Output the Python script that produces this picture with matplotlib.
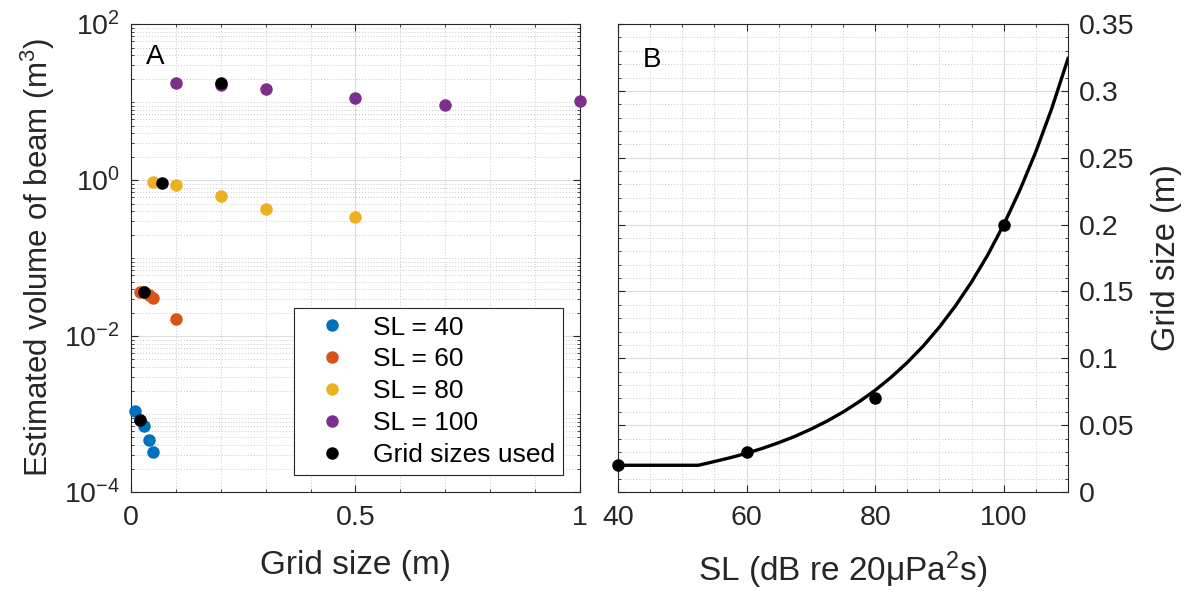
import numpy as np
from matplotlib import pyplot as plt
from matplotlib.ticker import LogLocator, FixedLocator, MultipleLocator, FuncFormatter, NullFormatter

plt.rcParams['font.family'] = ['Liberation Sans', 'DejaVu Sans']
plt.rcParams['mathtext.fontset'] = 'custom'
plt.rcParams['mathtext.rm'] = 'Liberation Sans'
plt.rcParams['mathtext.it'] = 'Liberation Sans'

# panel A: estimated beam volume vs grid size
sl_labels = ['SL = 40', 'SL = 60', 'SL = 80', 'SL = 100']
sl_colors = ['#0072BD', '#D95319', '#EDB120', '#7E2F8E']
grid_40 = [0.01, 0.02, 0.03, 0.04, 0.05]
vol_40 = [0.0011, 0.00084, 0.00071, 0.00046, 0.00033]
grid_60 = [0.02, 0.03, 0.04, 0.05, 0.1]
vol_60 = [0.037, 0.037, 0.034, 0.0304, 0.0165]
grid_80 = [0.05, 0.1, 0.2, 0.3, 0.5]
vol_80 = [0.95, 0.86, 0.63, 0.43, 0.333]
grid_100 = [0.1, 0.2, 0.3, 0.5, 0.7, 1.0]
vol_100 = [17.4, 16.5, 14.6, 11.1, 9.1, 10.3]
used_grid = [0.02, 0.03, 0.07, 0.2]
used_vol = [0.00084, 0.037, 0.91, 17.4]

# panel B: chosen grid size vs SL
sl_used = [40, 60, 80, 100]
grid_used = [0.02, 0.03, 0.07, 0.2]
curve_sl = [40, 45, 50, 52.5, 55, 57.5, 60, 62.5, 65, 67.5, 70, 72.5, 75, 77.5,
            80, 82.5, 85, 87.5, 90, 92.5, 95, 97.5, 100, 102.5, 105, 107.5, 110]
curve_grid = [0.02, 0.02, 0.02, 0.02, 0.0228, 0.0257, 0.029, 0.0327, 0.0369, 0.0416,
              0.047, 0.053, 0.0598, 0.0675, 0.0761, 0.0859, 0.0969, 0.1093, 0.1234,
              0.1393, 0.1571, 0.1772, 0.2, 0.2257, 0.2546, 0.2873, 0.3242]

txt = '#262626'


def style_axes(ax):
    ax.set_axisbelow(True)
    ax.grid(True, which='major', color='#dcdcdc', lw=0.8, ls='-')
    ax.grid(True, which='minor', color='#c8c8c8', lw=0.7, ls=(0, (1, 2)))
    ax.tick_params(which='both', direction='in', top=True, right=True,
                   colors=txt, labelsize=20.5, labelcolor=txt)
    ax.tick_params(which='major', length=5, width=0.8)
    ax.tick_params(which='minor', length=2.5, width=0.6)
    ax.tick_params(axis='x', which='both', pad=9)
    ax.tick_params(axis='y', which='both', pad=8)
    for s in ax.spines.values():
        s.set_color('#262626')
        s.set_linewidth(0.8)


fig = plt.figure(figsize=(11.94, 5.92), dpi=100)
ax1 = fig.add_axes([0.1097, 0.1689, 0.376, 0.7905])
ax2 = fig.add_axes([0.5176, 0.1689, 0.3769, 0.7905])

series = [(grid_40, vol_40), (grid_60, vol_60), (grid_80, vol_80), (grid_100, vol_100)]
for (gx, vy), lab, col in zip(series, sl_labels, sl_colors):
    ax1.plot(gx, vy, 'o', ms=9, color=col, mec='none', label=lab, clip_on=False, zorder=3)
ax1.plot(used_grid, used_vol, 'o', ms=9, color='k', mec='none', label='Grid sizes used',
         clip_on=False, zorder=4)

ax1.set_yscale('log')
ax1.set_xlim(0, 1)
ax1.set_ylim(1e-4, 1e2)
ax1.xaxis.set_major_locator(FixedLocator([0, 0.5, 1]))
ax1.xaxis.set_minor_locator(MultipleLocator(0.1))
ax1.xaxis.set_major_formatter(FuncFormatter(lambda v, p: '%g' % v))
ax1.yaxis.set_major_locator(FixedLocator([1e-4, 1e-2, 1e0, 1e2]))
ax1.yaxis.set_minor_locator(LogLocator(base=10, subs=np.arange(1, 10), numticks=20))
ax1.yaxis.set_minor_formatter(NullFormatter())
ax1.yaxis.set_major_formatter(FuncFormatter(
    lambda v, p: r'$\mathregular{10^{%d}}$' % int(round(np.log10(v)))))
style_axes(ax1)
ax1.set_xlabel('Grid size (m)', fontsize=24, color=txt, labelpad=14)
ax1.set_ylabel(r'Estimated volume of beam (m$^3$)', fontsize=22.5, color=txt, labelpad=5)
ax1.text(0.033, 0.929, 'A', transform=ax1.transAxes, fontsize=20, color='k', va='center')
leg = ax1.legend(loc='lower right', bbox_to_anchor=(0.962, 0.036), borderaxespad=0,
                 fontsize=19, frameon=True, fancybox=False, handletextpad=0.4,
                 labelspacing=0.3, borderpad=0.3, handlelength=2.3)
leg.get_frame().set_edgecolor('#262626')
leg.get_frame().set_linewidth(0.8)
leg.get_frame().set_alpha(1)

ax2.plot(curve_sl, curve_grid, '-', color='k', lw=2.4, zorder=3)
ax2.plot(sl_used, grid_used, 'o', ms=9, color='k', mec='none', clip_on=False, zorder=4)
ax2.set_xlim(40, 110)
ax2.set_ylim(0, 0.35)
ax2.xaxis.set_major_locator(FixedLocator([40, 60, 80, 100]))
ax2.xaxis.set_minor_locator(MultipleLocator(5))
ax2.yaxis.set_major_locator(MultipleLocator(0.05))
ax2.yaxis.set_minor_locator(MultipleLocator(0.01))
ax2.yaxis.set_major_formatter(FuncFormatter(lambda v, p: '%g' % round(v, 2)))
ax2.yaxis.tick_right()
ax2.yaxis.set_label_position('right')
style_axes(ax2)
ax2.tick_params(which='both', left=True, labelleft=False, labelright=True)
ax2.set_xlabel('SL (dB re 20μPa$^2$s)', fontsize=24, color=txt, labelpad=14)
ax2.set_ylabel('Grid size (m)', fontsize=23.5, color=txt, labelpad=12)
ax2.text(0.056, 0.924, 'B', transform=ax2.transAxes, fontsize=20, color='k', va='center')

fig.savefig('out.png', dpi=100)
